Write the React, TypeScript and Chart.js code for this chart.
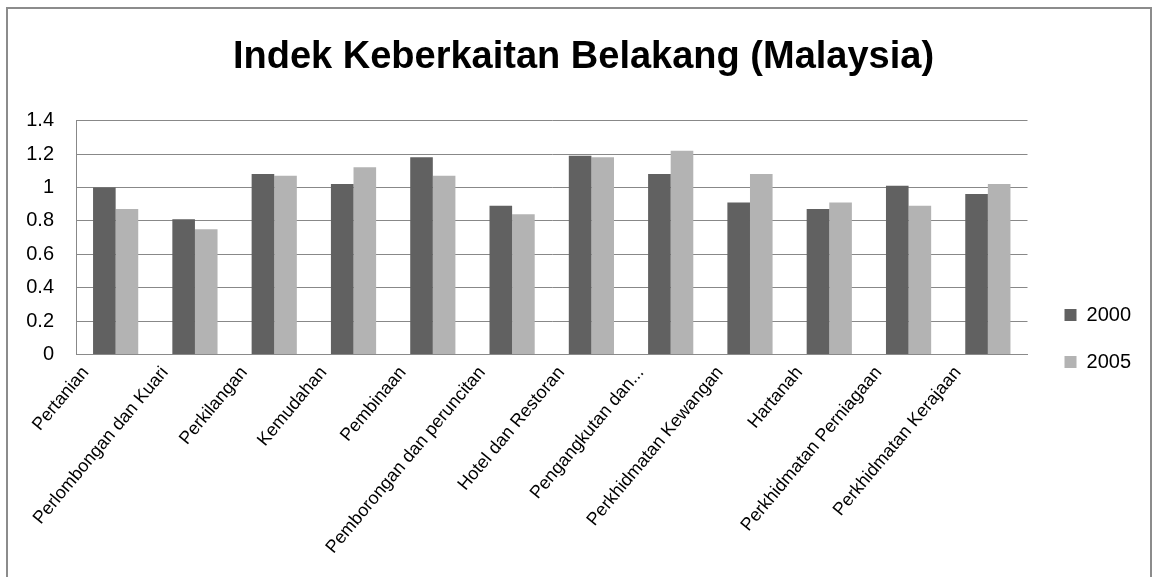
import React, { useEffect, useRef } from "react";
import { Chart, registerables } from "chart.js";

Chart.register(...registerables);

const titleText = "Indek Keberkaitan Belakang (Malaysia)";
const categories = [
  "Pertanian",
  "Perlombongan dan Kuari",
  "Perkilangan",
  "Kemudahan",
  "Pembinaan",
  "Pemborongan dan peruncitan",
  "Hotel dan Restoran",
  "Pengangkutan dan...",
  "Perkhidmatan Kewangan",
  "Hartanah",
  "Perkhidmatan Perniagaan",
  "Perkhidmatan Kerajaan",
];
const series2000 = [1.0, 0.81, 1.08, 1.02, 1.18, 0.89, 1.19, 1.08, 0.91, 0.87, 1.01, 0.96];
const series2005 = [0.87, 0.75, 1.07, 1.12, 1.07, 0.84, 1.18, 1.22, 1.08, 0.91, 0.89, 1.02];
const seriesLabels = ["2000", "2005"];
const yTicks = [0, 0.2, 0.4, 0.6, 0.8, 1, 1.2, 1.4];

const FONT = '"Liberation Sans", Arial, sans-serif';

export default function App() {
  const canvasRef = useRef<HTMLCanvasElement | null>(null);

  useEffect(() => {
    document.body.style.margin = "0";
    const ctx = canvasRef.current;
    if (!ctx) return;
    const chart = new Chart(ctx, {
      type: "bar",
      data: {
        labels: categories,
        datasets: [
          {
            label: seriesLabels[0],
            data: series2000,
            backgroundColor: "#616161",
            borderWidth: 0,
            barPercentage: 1,
            categoryPercentage: 0.57,
          },
          {
            label: seriesLabels[1],
            data: series2005,
            backgroundColor: "#b3b3b3",
            borderWidth: 0,
            barPercentage: 1,
            categoryPercentage: 0.57,
          },
        ],
      },
      options: {
        animation: false,
        responsive: false,
        maintainAspectRatio: false,
        layout: { padding: { left: 18, right: 9, top: 0, bottom: 11 } },
        plugins: {
          title: {
            display: true,
            text: titleText,
            color: "#000",
            font: { family: FONT, size: 38, weight: "bold" },
            padding: { top: 26, bottom: 40 },
          },
          legend: {
            position: "right",
            align: "center",
            title: { display: true, text: "", font: { size: 10 }, padding: 45 },
            labels: {
              boxWidth: 12,
              boxHeight: 12,
              padding: 27,
              color: "#000",
              font: { family: FONT, size: 20 },
            },
          },
          tooltip: { enabled: false },
        },
        scales: {
          x: {
            grid: { display: false, drawTicks: false },
            border: { display: true, color: "#8a8a8a", width: 1 },
            ticks: {
              color: "#000",
              font: { family: FONT, size: 18 },
              minRotation: 50,
              maxRotation: 50,
              padding: 8,
              labelOffset: -30,
              autoSkip: false,
            },
            afterFit: (scale: any) => {
              scale.paddingLeft = 0;
              scale.paddingRight = 0;
            },
          },
          y: {
            min: 0,
            max: 1.4,
            afterBuildTicks: (scale: any) => {
              scale.ticks = yTicks.map((v) => ({ value: v }));
            },
            grid: { color: "#888888", drawTicks: false, lineWidth: 1 },
            border: { display: true, color: "#888888", width: 1 },
            ticks: {
              color: "#000",
              font: { family: FONT, size: 20 },
              padding: 22,
              callback: (v: any) => String(Math.round(Number(v) * 10) / 10),
            },
            afterFit: (scale: any) => {
              scale.width = 50;
              scale.paddingLeft = 0;
            },
          },
          gap: {
            position: "right",
            display: true,
            grid: { display: false, drawTicks: false },
            border: { display: false },
            ticks: { display: false },
            afterFit: (scale: any) => {
              scale.width = 10;
            },
          },
        },
      },
    });
    return () => chart.destroy();
  }, []);

  return (
    <div style={{ position: "fixed", left: 0, top: 0, width: 1156, height: 577, overflow: "hidden", background: "#fff" }}>
      <div
        style={{
          position: "absolute",
          left: 6,
          top: 7,
          width: 1146,
          height: 600,
          border: "2px solid #8c8c8c",
          boxSizing: "border-box",
        }}
      >
        <canvas ref={canvasRef} width={1142} height={568} style={{ display: "block", width: 1142, height: 568 }} />
      </div>
    </div>
  );
}
